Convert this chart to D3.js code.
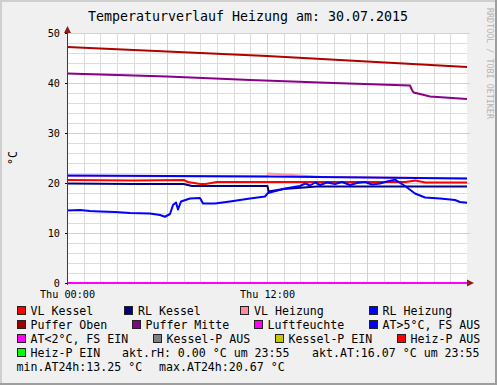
<!DOCTYPE html>
<html>
<head>
<meta charset="utf-8">
<script src="https://cdn.jsdelivr.net/npm/d3@7"></script>
<style>
  body { margin: 0; background: #fff; }
  text { font-family: "DejaVu Sans Mono", monospace; white-space: pre; }
</style>
</head>
<body>
<div id="chart"></div>
<script>
// Tick labels
const timeTicks = [0, 12];
const timeTickLabels = ['Thu 00:00', 'Thu 12:00'];
const valueTicks = [0, 10, 20, 30, 40, 50];

// Series data: hours since midnight and temperatures (°C)
const puOTime = [0, 6, 12, 18, 24];
const puOValue = [47.2, 46.3, 45.4, 44.3, 43.2];

const puMTime = [0, 6, 11, 16, 20.58, 20.7, 20.8, 21.18, 21.78, 24];
const puMValue = [41.9, 41.3, 40.6, 40.0, 39.5, 38.6, 38.1, 37.8, 37.3, 36.8];

const rlHTime = [0, 6, 12, 18, 24];
const rlHValue = [21.5, 21.4, 21.3, 21.1, 20.9];

const vlHTime = [0, 12.0, 12.06, 13.5, 15.2, 24];
const vlHValue = [21.4, 21.3, 21.9, 21.6, 21.25, 20.9];

const vlKTime = [0, 4, 7.0, 7.25, 8.0, 8.3, 9.0, 12, 20.3, 20.9, 21.5, 24];
const vlKValue = [20.6, 20.5, 20.6, 20.2, 19.8, 19.8, 20.2, 20.2, 20.2, 20.5, 20.1, 20.1];

const rlKTime = [0, 4, 7.0, 7.5, 12.03, 12.09, 13.0, 15.0, 24];
const rlKValue = [19.9, 19.8, 19.8, 19.4, 19.4, 18.3, 18.8, 19.3, 19.3];

const atTime = [0, 0.78, 1.38, 1.98, 2.88, 3.78, 4.98, 5.58, 5.88, 6.18, 6.36, 6.54, 6.66, 6.84,
  7.38, 7.98, 8.16, 8.88, 9.78, 10.98, 11.88, 12.06, 13.08, 13.98, 14.3, 14.58, 14.9, 15.18, 15.6, 16.08,
  16.5, 16.98, 17.4, 17.88, 18.3, 18.78, 19.2, 19.68, 20.28, 20.88, 21.48, 22.38, 23.28, 23.58, 24];
const atValue = [14.5, 14.6, 14.4, 14.3, 14.2, 14.0, 13.9, 13.6, 13.25, 13.8, 15.6, 16.1, 14.7, 16.3,
  16.9, 17.0, 15.9, 15.9, 16.3, 16.9, 17.3, 18.0, 18.9, 19.4, 19.9, 19.5, 20.1, 19.6, 20.1, 19.8,
  20.2, 19.6, 20.0, 20.2, 19.7, 19.9, 20.3, 20.67, 19.4, 17.9, 17.1, 16.9, 16.6, 16.2, 16.07];

const rhTime = [0, 24];
const rhValue = [0, 0];

// Legend
const legendLabels = ['VL Kessel', 'RL Kessel', 'VL Heizung', 'RL Heizung',
  'Puffer Oben', 'Puffer Mitte', 'Luftfeuchte', 'AT>5°C, FS AUS',
  'AT<2°C, FS EIN', 'Kessel-P AUS', 'Kessel-P EIN', 'Heiz-P AUS', 'Heiz-P EIN'];
const legendColors = ['#ff0000', '#000080', '#ff8c9c', '#0000ff',
  '#a00000', '#880088', '#ff00ff', '#0000ff',
  '#ff00ff', '#808080', '#c8c800', '#ff0000', '#00ff00'];

const width = 497, height = 385;
const margin = { top: 33, left: 67 };
const plotW = 400, plotH = 250;
const legendFont = '11.6px';
const axisFont = '10.2px';

const svg = d3.select('#chart').append('svg')
  .attr('width', width)
  .attr('height', height);

// Background and shaded frame
svg.append('rect').attr('width', width).attr('height', height).attr('fill', '#f0f0f0');
svg.append('path').attr('d', `M0,0H${width}V2H2V${height}H0Z`).attr('fill', '#cfcfcf');
svg.append('path').attr('d', `M${width},0V${height}H0V${height - 2}H${width - 2}V0Z`).attr('fill', '#9e9e9e');

const x = d3.scaleLinear().domain([0, 24]).range([margin.left, margin.left + plotW]);
const y = d3.scaleLinear().domain([0, 50]).range([margin.top + plotH, margin.top]);

svg.append('rect')
  .attr('x', margin.left).attr('y', margin.top)
  .attr('width', plotW).attr('height', plotH)
  .attr('fill', '#fff');

// Grid: minor every hour / 2 °C, major every 6 h / 10 °C
const grid = svg.append('g').attr('shape-rendering', 'crispEdges');
d3.range(1, 24).filter(h => h % 6 !== 0).forEach(h => {
  grid.append('line')
    .attr('x1', Math.round(x(h)) + 0.5).attr('x2', Math.round(x(h)) + 0.5)
    .attr('y1', margin.top).attr('y2', margin.top + plotH)
    .attr('stroke', '#dcdcdc');
});
d3.range(2, 50, 2).filter(v => v % 10 !== 0).forEach(v => {
  grid.append('line')
    .attr('x1', margin.left).attr('x2', margin.left + plotW)
    .attr('y1', Math.round(y(v)) + 0.5).attr('y2', Math.round(y(v)) + 0.5)
    .attr('stroke', '#dcdcdc');
});
[6, 12, 18].forEach(h => {
  grid.append('line')
    .attr('x1', Math.round(x(h)) + 0.5).attr('x2', Math.round(x(h)) + 0.5)
    .attr('y1', margin.top).attr('y2', margin.top + plotH)
    .attr('stroke', '#f6c2c2');
});
valueTicks.filter(v => v > 0).forEach(v => {
  grid.append('line')
    .attr('x1', margin.left).attr('x2', margin.left + plotW + 3)
    .attr('y1', Math.round(y(v)) + 0.5).attr('y2', Math.round(y(v)) + 0.5)
    .attr('stroke', '#f6c2c2');
});

// Lines, in the order rrdtool paints them
const line = d3.line().x(d => x(d[0])).y(d => y(d[1]));
const series = [
  { t: vlHTime, v: vlHValue, color: '#ff9aa8' },
  { t: vlKTime, v: vlKValue, color: '#ff0000' },
  { t: rlKTime, v: rlKValue, color: '#000080' },
  { t: rlHTime, v: rlHValue, color: '#0000ff' },
  { t: puOTime, v: puOValue, color: '#b00000' },
  { t: puMTime, v: puMValue, color: '#880088' },
  { t: rhTime, v: rhValue, color: '#ff00ff' },
  { t: atTime, v: atValue, color: '#0000ff' }
];
series.forEach(s => {
  svg.append('path')
    .datum(d3.zip(s.t, s.v))
    .attr('d', line)
    .attr('fill', 'none')
    .attr('stroke', s.color)
    .attr('stroke-width', 2)
    .attr('stroke-linejoin', 'round');
});

// Axes
const axisColor = '#8b1a1a';
svg.append('line')
  .attr('x1', margin.left + 0.5).attr('x2', margin.left + 0.5)
  .attr('y1', margin.top + plotH + 2).attr('y2', margin.top - 2)
  .attr('stroke', axisColor);
svg.append('path')
  .attr('d', `M${margin.left - 3},${margin.top}L${margin.left + 0.5},${margin.top - 7}L${margin.left + 4},${margin.top}Z`)
  .attr('fill', axisColor);
svg.append('path')
  .attr('d', `M${margin.left + plotW},${margin.top + plotH - 3.5}L${margin.left + plotW + 7},${margin.top + plotH}L${margin.left + plotW},${margin.top + plotH + 3.5}Z`)
  .attr('fill', axisColor);

const yAxis = svg.append('g')
  .attr('transform', `translate(${margin.left},0)`)
  .call(d3.axisLeft(y).tickValues(valueTicks).tickSize(2).tickPadding(5));
yAxis.select('.domain').remove();
yAxis.selectAll('.tick line').attr('stroke', '#000');
yAxis.selectAll('text')
  .style('font-family', '"DejaVu Sans Mono", monospace')
  .style('font-size', axisFont)
  .attr('fill', '#000');

const xAxis = svg.append('g')
  .attr('transform', `translate(0,${margin.top + plotH})`)
  .call(d3.axisBottom(x).tickValues(timeTicks).tickFormat((d, i) => timeTickLabels[i]).tickSize(0).tickPadding(8));
xAxis.select('.domain').remove();
xAxis.selectAll('text')
  .style('font-family', '"DejaVu Sans Mono", monospace')
  .style('font-size', axisFont)
  .attr('fill', '#000');

// Title, y label, watermark
svg.append('text')
  .attr('x', 248).attr('y', 21)
  .attr('text-anchor', 'middle')
  .style('font-size', '13.3px')
  .text('Temperaturverlauf Heizung am: 30.07.2015');

svg.append('text')
  .attr('transform', `translate(17,${margin.top + plotH / 2}) rotate(-90)`)
  .attr('text-anchor', 'middle')
  .style('font-size', legendFont)
  .text('°C');

svg.append('text')
  .attr('transform', 'translate(487,8) rotate(90)')
  .attr('fill', '#b4b4b4')
  .style('font-size', '8.4px')
  .text('RRDTOOL / TOBI OETIKER');

// Legend
const legendRowY = [311, 325, 339, 353, 367];
const legendLayout = [[0, 16.5], [0, 124], [0, 240], [0, 368.5],
  [1, 16.5], [1, 131.5], [1, 253.5], [1, 368.5],
  [2, 16.5], [2, 152.5], [2, 274.5], [2, 396.5],
  [3, 16.5]];
const legend = svg.append('g');
legendLabels.forEach((label, i) => {
  const [row, bx] = legendLayout[i];
  const cy = legendRowY[row];
  legend.append('rect')
    .attr('x', Math.round(bx) + 0.5).attr('y', cy - 4.5)
    .attr('width', 8).attr('height', 8)
    .attr('fill', legendColors[i])
    .attr('stroke', '#222')
    .attr('shape-rendering', 'crispEdges');
  legend.append('text')
    .attr('x', bx + 14).attr('y', cy + 4)
    .style('font-size', legendFont)
    .text(label);
});

const fmt = d3.format('.2f');
const comments = [
  [3, 122, `akt.rH: ${fmt(rhValue[rhValue.length - 1])} °C um 23:55`],
  [3, 312, `akt.AT:${fmt(atValue[atValue.length - 1])} °C um 23:55`],
  [4, 16.5, `min.AT24h:${fmt(d3.min(atValue))} °C`],
  [4, 159, `max.AT24h:${fmt(d3.max(atValue))} °C`]
];
comments.forEach(([row, cx, txt]) => {
  legend.append('text')
    .attr('x', cx).attr('y', legendRowY[row] + 4)
    .style('font-size', legendFont)
    .text(txt);
});
</script>
</body>
</html>
